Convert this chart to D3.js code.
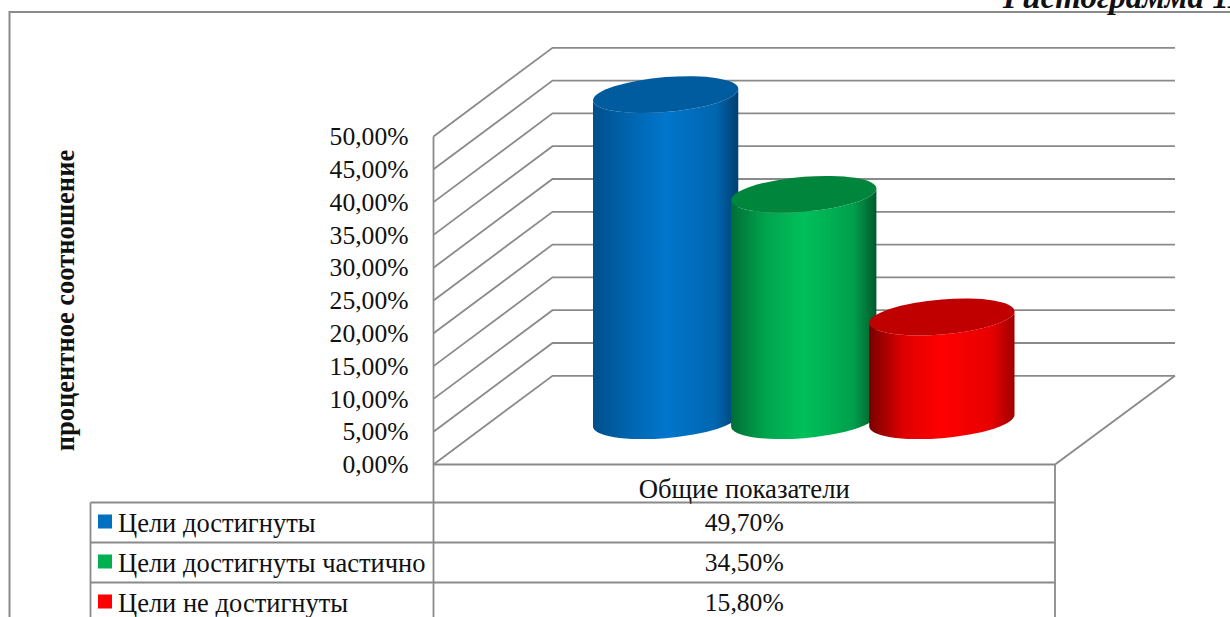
<!DOCTYPE html>
<html>
<head>
<meta charset="utf-8">
<script src="https://cdn.jsdelivr.net/npm/d3@7"></script>
<style>
  html, body { margin: 0; padding: 0; background: #fff; overflow: hidden; }
  text { font-family: "Liberation Serif", serif; fill: #111; }
</style>
</head>
<body>
<div id="chart"></div>
<script>
// datos
const seriesNames = ["Цели достигнуты", "Цели достигнуты частично", "Цели не достигнуты"];
const seriesValues = [49.7, 34.5, 15.8];
const tickValues = [0, 5, 10, 15, 20, 25, 30, 35, 40, 45, 50];
const categoryLabel = "Общие показатели";
const axisTitle = "процентное соотношение";
const captionText = "Гистограмма 11";

// colores
const topColors = ["#005c9e", "#00853c", "#c00000"];
const sideStops = [
  ["#004f8a", "#0064ae", "#0076cc", "#0066b0", "#003f70"],
  ["#006e36", "#00a54e", "#00c05a", "#00a04c", "#005a2a"],
  ["#7a0000", "#e00000", "#ff0000", "#e80000", "#a00000"]
];
const swatchColors = ["#0070c0", "#00b050", "#ff0000"];

const W = 1230, H = 617;
const gridColor = "#8a8a8a";
const frontLeft = 433.5, frontRight = 1055;
const depthX = 119, depthY = -88.7;
const rowLines = [502.5, 542.5, 582.5, 622];
const tableLeft = 90.5;

const pct = (d) => d3.format(".2f")(d).replace(".", ",") + "%";

const svg = d3.select("#chart").append("svg")
  .attr("width", W)
  .attr("height", H)
  .style("display", "block");

const y = d3.scaleLinear().domain([0, 50]).range([464.5, 136.5]);
const x = d3.scaleBand()
  .domain(seriesNames)
  .range([frontLeft, frontRight])
  .paddingInner(0)
  .paddingOuter(0.75);

// gradientes de los cilindros
const defs = svg.append("defs");
sideStops.forEach((stops, i) => {
  const g = defs.append("linearGradient").attr("id", "side" + i);
  [0, 0.24, 0.5, 0.84, 1].forEach((o, j) => {
    g.append("stop").attr("offset", o).attr("stop-color", stops[j]);
  });
});

// marco
svg.append("rect")
  .attr("x", 9.5).attr("y", 12)
  .attr("width", 1300).attr("height", 700)
  .attr("fill", "none")
  .attr("stroke", "#8a8a8a")
  .attr("stroke-width", 2);

// titulo de la pagina
svg.append("text")
  .attr("x", 1003).attr("y", 8)
  .attr("font-size", 33)
  .attr("font-weight", "bold")
  .attr("font-style", "italic")
  .text(captionText);

// rejilla: pared lateral y pared del fondo
const grid = svg.append("g")
  .attr("fill", "none")
  .attr("stroke", gridColor)
  .attr("stroke-width", 1.8);

grid.selectAll("path.wall")
  .data(tickValues)
  .enter()
  .append("path")
  .attr("class", "wall")
  .attr("d", (d) => d3.line()([
    [frontLeft, y(d)],
    [frontLeft + depthX, y(d) + depthY],
    [frontRight + depthX + 1, y(d) + depthY]
  ]));

// suelo
grid.append("path")
  .attr("d", d3.line()([
    [frontLeft, y(0)],
    [frontRight, y(0)],
    [frontRight + depthX + 1, y(0) + depthY]
  ]));

// eje frontal y lados de la tabla
grid.append("path").attr("d", d3.line()([[frontLeft, y(50)], [frontLeft, H + 5]]));
grid.append("path").attr("d", d3.line()([[frontRight, y(0)], [frontRight, H + 5]]));

// filas de la tabla
grid.selectAll("path.row")
  .data(rowLines)
  .enter()
  .append("path")
  .attr("class", "row")
  .attr("d", (d) => d3.line()([[tableLeft, d], [frontRight, d]]));
grid.append("path").attr("d", d3.line()([[tableLeft, rowLines[0]], [tableLeft, H + 5]]));

// cilindros
const rx = x.bandwidth() * 0.526;
const ry = 17.5;
const shear = -0.08;
const baseShift = depthY / 2 + 0.5;

const bars = svg.selectAll("g.bar")
  .data(seriesValues)
  .enter()
  .append("g")
  .attr("class", "bar")
  .attr("transform", (d, i) => {
    const cx = x(seriesNames[i]) + x.bandwidth() / 2 + depthX / 2;
    return `matrix(1,${shear},0,1,${cx},${y(0) + baseShift})`;
  });

bars.append("path")
  .attr("fill", (d, i) => `url(#side${i})`)
  .attr("d", (d) => {
    const h = y(0) - y(d);
    return `M${-rx},${-h}L${-rx},0A${rx},${ry} 0 0 0 ${rx},0L${rx},${-h}A${rx},${ry} 0 0 1 ${-rx},${-h}Z`;
  });

bars.append("ellipse")
  .attr("cx", 0)
  .attr("cy", (d) => -(y(0) - y(d)))
  .attr("rx", rx)
  .attr("ry", ry)
  .attr("fill", (d, i) => topColors[i]);

// eje de valores
const axis = svg.append("g")
  .attr("transform", `translate(${frontLeft},0)`)
  .call(d3.axisLeft(y).tickValues(tickValues).tickSize(0).tickPadding(25).tickFormat(pct));
axis.select(".domain").remove();
axis.selectAll("text")
  .attr("font-family", "Liberation Serif")
  .attr("font-size", 25.6)
  .attr("dy", "0.32em");

svg.append("text")
  .attr("transform", "translate(74,300.5) rotate(-90)")
  .attr("text-anchor", "middle")
  .attr("font-size", 26.5)
  .attr("font-weight", "bold")
  .text(axisTitle);

// tabla de datos
const cellX = (frontLeft + frontRight) / 2;

svg.append("text")
  .attr("x", cellX).attr("y", 497.5)
  .attr("text-anchor", "middle")
  .attr("font-size", 26.7)
  .text(categoryLabel);

svg.selectAll("text.value")
  .data(seriesValues)
  .enter()
  .append("text")
  .attr("class", "value")
  .attr("x", cellX)
  .attr("y", (d, i) => rowLines[i] + 28.5)
  .attr("text-anchor", "middle")
  .attr("font-size", 25.6)
  .text(pct);

svg.selectAll("rect.swatch")
  .data(seriesNames)
  .enter()
  .append("rect")
  .attr("class", "swatch")
  .attr("x", 98)
  .attr("y", (d, i) => rowLines[i] + 12)
  .attr("width", 14)
  .attr("height", 14)
  .attr("fill", (d, i) => swatchColors[i]);

svg.selectAll("text.name")
  .data(seriesNames)
  .enter()
  .append("text")
  .attr("class", "name")
  .attr("x", 118)
  .attr("y", (d, i) => rowLines[i] + 29)
  .attr("font-size", 26.5)
  .text((d) => d);
</script>
</body>
</html>
